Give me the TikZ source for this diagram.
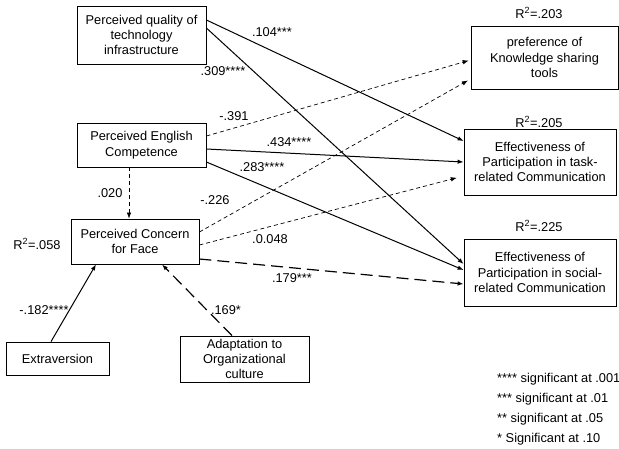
\documentclass[tikz,border=0pt]{standalone}
\usepackage{fontspec}
\setmainfont{Liberation Sans}
\usepackage{tikz}
\usetikzlibrary{arrows.meta}
\tikzstyle{box}=[draw=black, line width=0.8pt, inner sep=0pt, align=center]
\tikzstyle{lab}=[inner sep=0pt]
\tikzstyle{arr}=[line width=1pt, -{Latex[length=6pt,width=4.5pt]}]
\tikzstyle{darr}=[line width=0.7pt, dash pattern=on 4pt off 3pt, -{Latex[length=6pt,width=4.5pt]}]
\tikzstyle{ldarr}=[line width=1.2pt, dash pattern=on 12pt off 6pt, -{Latex[length=6pt,width=4.5pt]}]
\newcommand{\st}[1]{\textsuperscript{#1}}
\begin{document}
\begin{tikzpicture}[x=1pt, y=-1pt, font=\fontsize{12.8}{15.4}\selectfont]
        \useasboundingbox (0,0) rectangle (619,448);
        % predictors
        \node at (141.5,35) [box, minimum width=129pt, minimum height=58pt] (Q) {Perceived quality of\\technology\\infrastructure};
        \node at (141.5,145) [box, minimum width=129pt, minimum height=44pt] (E) {Perceived English\\Competence};
        \node at (135,241.5) [box, minimum width=128pt, minimum height=45pt] (F) {Perceived Concern\\for Face};
        \node at (57.5,358.5) [box, minimum width=103pt, minimum height=33pt] (X) {Extraversion};
        \node at (244.5,359) [box, minimum width=129pt, minimum height=46pt] (A) {Adaptation to\\Organizational\\culture};
        % outcomes
        \node at (544.5,57.5) [box, minimum width=147pt, minimum height=63pt] (K) {preference of\\Knowledge sharing\\tools};
        \node at (540,162) [box, minimum width=152pt, minimum height=66pt] (T) {Effectiveness of\\Participation in task-\\related Communication};
        \node at (540,272.5) [box, minimum width=152pt, minimum height=67pt] (S) {Effectiveness of\\Participation in social-\\related Communication};
        % R squared
        \node at (539,13) [lab] (rK) {R\st{2}=.203};
        \node at (539,122) [lab] (rT) {R\st{2}=.205};
        \node at (539,226) [lab] (rS) {R\st{2}=.225};
        \node at (37,244) [lab] (rF) {R\st{2}=.058};
        % paths
        \draw [arr] ([yshift=15pt]Q.east) -- ([yshift=21pt]T.west);
        \draw [arr] ([yshift=7pt]Q.east) -- ([yshift=8.5pt]S.west);
        \draw [darr, shorten >=2pt] ([yshift=9pt]E.east) -- ([yshift=-2.5pt]K.west);
        \draw [arr] ([yshift=-4pt]E.east) -- (T.west);
        \draw [arr] ([yshift=-17pt]E.east) -- ([yshift=2.5pt]S.west);
        \draw [darr] ([xshift=-12.5pt]E.south) -- ([xshift=-6pt]F.north);
        \draw [darr, shorten >=3pt] ([yshift=9.5pt]F.east) -- ([yshift=-21.5pt]K.west);
        \draw [darr, shorten >=7pt] ([yshift=-3.5pt]F.east) -- ([yshift=-14pt]T.west);
        \draw [ldarr] ([yshift=-17.5pt]F.east) -- ([yshift=-11.5pt]S.west);
        \draw [arr] ([xshift=-6.5pt]X.north) -- ([xshift=-39pt]F.south);
        \draw [ldarr] ([xshift=-12.5pt]A.north) -- ([xshift=27pt]F.south);
        % coefficients
        \node at (272,32) [lab] (c1) {.104***};
        \node at (223,71) [lab] (c2) {.309****};
        \node at (234,116) [lab] (c3) {-.391};
        \node at (289,142) [lab] (c4) {.434****};
        \node at (262,167) [lab] (c5) {.283****};
        \node at (110,193) [lab] (c6) {.020};
        \node at (215,200) [lab] (c7) {-.226};
        \node at (270,239) [lab] (c8) {.0.048};
        \node at (292,278) [lab] (c9) {.179***};
        \node at (44,310) [lab] (c10) {-.182****};
        \node at (226,310) [lab] (c11) {.169*};
        % legend
        \node at (497,379) [lab, anchor=west] (l1) {**** significant at .001};
        \node at (497,399) [lab, anchor=west] (l2) {*** significant at .01};
        \node at (497,419) [lab, anchor=west] (l3) {** significant at .05};
        \node at (497,439) [lab, anchor=west] (l4) {* Significant at .10};
      %
      \end{tikzpicture}
\end{document}
